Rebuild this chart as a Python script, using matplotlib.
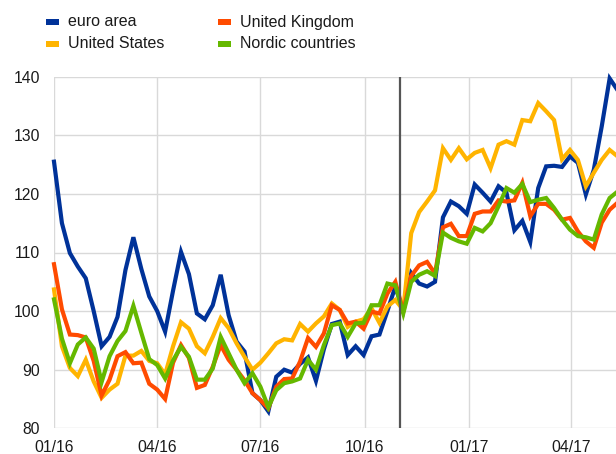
import matplotlib
matplotlib.use("Agg")
import matplotlib.pyplot as plt
from matplotlib.patches import Rectangle
import pandas as pd

plt.rcParams['font.family'] = ['Liberation Sans', 'DejaVu Sans']

dates = pd.date_range("2016-01-01", periods=72, freq="7D")

euro_area = [125.5, 115.0, 109.9, 107.6, 105.6, 100.0, 94.0, 95.6, 99.0, 107.0,
             112.6, 107.2, 102.5, 100.0, 96.5, 103.5, 110.1, 106.3, 99.6, 98.6,
             101.0, 106.2, 99.3, 94.8, 93.1, 86.0, 84.8, 82.9, 88.8, 90.0,
             89.5, 91.0, 92.1, 88.1, 93.5, 97.8, 98.2, 92.5, 94.0, 92.5,
             95.7, 96.0, 100.0, 104.2, 100.0, 106.5, 104.7, 104.2, 105.0, 116.0,
             118.7, 117.9, 116.6, 121.6, 120.2, 118.7, 121.3, 120.2, 113.8, 115.4,
             111.8, 121.0, 124.7, 124.8, 124.6, 126.4, 125.3, 119.9, 124.1, 131.5,
             139.7, 137.7]

united_states = [103.7, 94.0, 90.3, 88.9, 91.7, 88.0, 85.2, 86.6, 87.6, 92.4,
                 92.4, 93.2, 91.5, 91.1, 89.2, 94.0, 98.1, 97.0, 94.0, 92.8,
                 95.6, 98.8, 97.1, 94.5, 92.2, 90.0, 91.2, 92.8, 94.5, 95.2,
                 95.0, 97.8, 96.5, 97.9, 99.1, 101.3, 100.2, 97.3, 98.2, 98.6,
                 100.5, 98.0, 100.8, 101.9, 100.2, 113.3, 116.9, 118.7, 120.6, 127.8,
                 125.8, 127.8, 125.9, 127.0, 127.5, 124.4, 128.4, 129.0, 128.4, 132.6,
                 132.4, 135.5, 134.1, 132.6, 125.9, 127.5, 125.8, 121.3, 123.6, 125.8,
                 127.5, 126.4]

united_kingdom = [108.0, 100.3, 96.0, 95.9, 95.5, 91.5, 85.6, 88.3, 92.3, 93.0,
                  91.1, 91.2, 87.6, 86.6, 85.0, 91.2, 94.2, 92.0, 86.9, 87.4,
                  90.5, 94.2, 91.7, 90.0, 88.2, 86.0, 84.8, 83.4, 87.1, 88.4,
                  88.5, 91.4, 95.4, 93.9, 96.2, 101.0, 100.2, 97.9, 98.2, 97.0,
                  99.9, 99.6, 103.0, 105.0, 99.9, 106.0, 107.8, 108.4, 106.4, 114.3,
                  114.9, 112.8, 112.8, 116.6, 117.0, 117.0, 118.9, 118.7, 118.9, 121.9,
                  116.2, 118.3, 118.3, 117.3, 115.6, 115.9, 113.6, 111.9, 110.8, 115.1,
                  117.3, 118.5]

nordic_countries = [102.0, 95.3, 91.1, 94.3, 95.5, 93.6, 87.9, 92.3, 94.9, 96.6,
                    100.9, 96.3, 91.8, 90.8, 88.5, 91.6, 93.9, 92.2, 88.3, 88.3,
                    90.2, 95.6, 92.8, 90.0, 87.7, 89.4, 87.1, 83.6, 86.5, 87.7,
                    88.0, 88.5, 91.7, 90.0, 94.2, 97.6, 97.9, 95.6, 97.9, 98.0,
                    101.0, 101.0, 104.7, 104.4, 99.6, 105.0, 106.2, 106.8, 106.0, 113.4,
                    112.5, 111.9, 111.5, 114.2, 113.6, 115.0, 117.9, 121.0, 120.2, 121.7,
                    118.6, 119.0, 119.3, 117.6, 115.6, 113.9, 112.8, 112.6, 112.2, 116.5,
                    119.3, 120.4]

series_names = ["euro area", "United States", "United Kingdom", "Nordic countries"]
series_values = [euro_area, united_states, united_kingdom, nordic_countries]
colors = ["#003299", "#FFB400", "#FF4B00", "#65B800"]

tick_dates = ["2016-01-01", "2016-04-01", "2016-07-01", "2016-10-01", "2017-01-01", "2017-04-01"]
tick_labels = ["01/16", "04/16", "07/16", "10/16", "01/17", "04/17"]
event_date = "2016-11-01"

fig = plt.figure(figsize=(6.16, 4.54), dpi=100)
ax = fig.add_axes([54 / 616, 1 - 428.3 / 454, 1 - 54 / 616, (428.3 - 76.7) / 454])

for name, vals, c in zip(series_names, series_values, colors):
    ax.plot(dates, vals, color=c, lw=3.0, solid_joinstyle="miter", zorder=3, clip_on=False)

ax.axvline(pd.Timestamp(event_date), color="#555555", lw=1.6, zorder=4)

start = pd.Timestamp("2016-01-01")
ax.set_xlim(start, start + pd.Timedelta(days=495.6))
ax.set_ylim(80, 140)
ax.set_yticks(range(80, 141, 10))
ax.set_xticks([pd.Timestamp(d) for d in tick_dates])
ax.set_xticklabels(tick_labels)
ax.tick_params(axis="both", length=0, labelsize=11.3, colors="#1a1a1a")
ax.tick_params(axis="x", pad=8.6)
ax.tick_params(axis="y", pad=10)
ax.grid(True, color="#d9d9d9", lw=1.0, zorder=0)
ax.set_axisbelow(True)
for s in ax.spines.values():
    s.set_visible(False)

# legend
leg_pos = [(46, 22), (46, 44), (218, 22), (218, 44)]
for (x, y), name, c in zip(leg_pos, series_names, colors):
    fig.patches.append(Rectangle((x / 616, 1 - (y + 3) / 454), 13 / 616, 6 / 454,
                                 transform=fig.transFigure, facecolor=c, edgecolor="none"))
    fig.text((x + 22) / 616, 1 - y / 454, name, fontsize=11.5, va="center", ha="left",
             color="#1a1a1a")

fig.savefig("out.png", dpi=100)
